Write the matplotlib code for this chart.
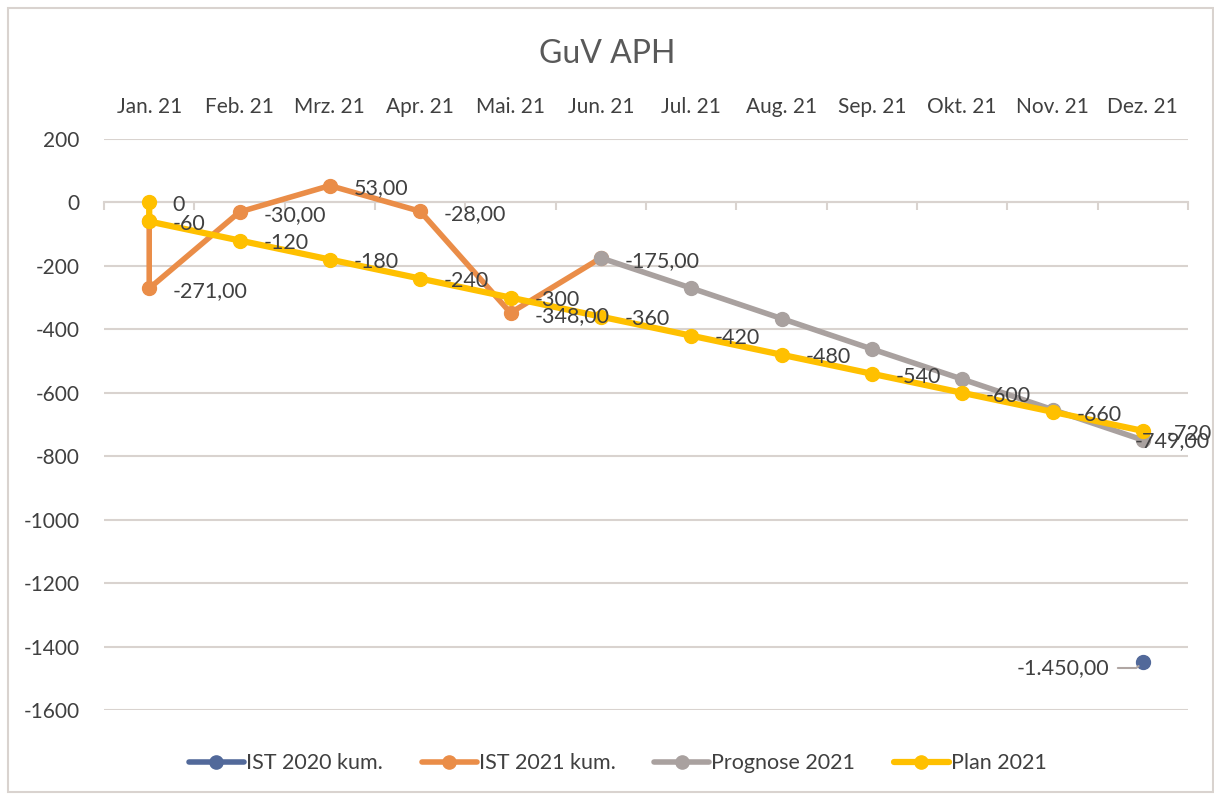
import matplotlib
matplotlib.use("Agg")
import matplotlib.pyplot as plt
from matplotlib.patches import Rectangle

plt.rcParams['font.family'] = ['Lato', 'DejaVu Sans']
plt.rcParams['axes.unicode_minus'] = False

# Kategorien (Monate)
monate = ['Jan. 21', 'Feb. 21', 'Mrz. 21', 'Apr. 21', 'Mai. 21', 'Jun. 21',
          'Jul. 21', 'Aug. 21', 'Sep. 21', 'Okt. 21', 'Nov. 21', 'Dez. 21']

# IST 2020 kum. - nur Dezember
ist2020_monate = ['Dez. 21']
ist2020_werte = [-1450]

# IST 2021 kum.
ist2021_monate = ['Jan. 21', 'Jan. 21', 'Feb. 21', 'Mrz. 21', 'Apr. 21', 'Mai. 21', 'Jun. 21']
ist2021_werte = [-60, -271, -30, 53, -28, -348, -175]

# Prognose 2021
prognose_monate = ['Jun. 21', 'Jul. 21', 'Aug. 21', 'Sep. 21', 'Okt. 21', 'Nov. 21', 'Dez. 21']
prognose_werte = [-175, -270, -366, -462, -557, -653, -749]

# Plan 2021
plan_monate = ['Jan. 21', 'Jan. 21', 'Feb. 21', 'Mrz. 21', 'Apr. 21', 'Mai. 21', 'Jun. 21',
               'Jul. 21', 'Aug. 21', 'Sep. 21', 'Okt. 21', 'Nov. 21', 'Dez. 21']
plan_werte = [0, -60, -120, -180, -240, -300, -360, -420, -480, -540, -600, -660, -720]

y_ticks = [200, 0, -200, -400, -600, -800, -1000, -1200, -1400, -1600]

# Farben
c_blau = '#52699A'
c_orange = '#EA8D48'
c_grau = '#A9A19F'
c_gelb = '#FFC000'
c_text = '#404040'
c_gitter = '#D9D3CF'


def pos(liste):
    return [monate.index(m) for m in liste]


def de_format(v):
    # deutsches Zahlenformat mit 2 Nachkommastellen
    s = f"{v:,.2f}"
    return s.replace(',', 'X').replace('.', ',').replace('X', '.')


fig = plt.figure(figsize=(12.14, 7.96), dpi=100)
ax = fig.add_axes([0.0857, 0.108, 0.8929, 0.7174])

# Rahmen um das Diagramm
fig.patches.append(Rectangle((8 / 1214, 4 / 796), 1 - 9 / 1214, 1 - 12 / 796,
                             transform=fig.transFigure, fill=False,
                             edgecolor=c_gitter, linewidth=1.5))

fs = 15
fs_lab = 15.5
ax.plot(pos(ist2020_monate), ist2020_werte, color=c_blau, lw=4, marker='o', ms=10,
        label='IST 2020 kum.', solid_capstyle='round', zorder=3)
ax.plot(pos(ist2021_monate), ist2021_werte, color=c_orange, lw=4, marker='o', ms=10,
        label='IST 2021 kum.', solid_capstyle='round', zorder=4)
ax.plot(pos(prognose_monate), prognose_werte, color=c_grau, lw=4, marker='o', ms=10,
        label='Prognose 2021', solid_capstyle='round', zorder=5)
ax.plot(pos(plan_monate), plan_werte, color=c_gelb, lw=4.5, marker='o', ms=10,
        label='Plan 2021', solid_capstyle='round', zorder=6)

# Datenbeschriftungen
for x, v in zip(pos(plan_monate), plan_werte):
    ax.annotate(f"{v}", (x, v), xytext=(17, -2), textcoords='offset points',
                ha='left', va='center', fontsize=fs_lab, color=c_text, zorder=7)
for x, v in zip(pos(ist2021_monate)[1:], ist2021_werte[1:]):
    ax.annotate(de_format(v), (x, v), xytext=(17, -2), textcoords='offset points',
                ha='left', va='center', fontsize=fs_lab, color=c_text, zorder=7)
# letzter Prognosewert: von Excel in den Diagrammbereich geschoben
ax.annotate(de_format(prognose_werte[-1]), (pos(prognose_monate)[-1], prognose_werte[-1]),
            xytext=(48, -1), textcoords='offset points',
            ha='right', va='center', fontsize=fs_lab, color=c_text, zorder=7)
ax.annotate(de_format(ist2020_werte[0]), (pos(ist2020_monate)[0], ist2020_werte[0]),
            xytext=(-24, -4), textcoords='offset points',
            ha='right', va='center', fontsize=fs_lab, color=c_text, zorder=7,
            arrowprops=dict(arrowstyle='-', color='#B0A6A3', lw=1.5,
                            connectionstyle='angle,angleA=0,angleB=40,rad=0',
                            shrinkA=4, shrinkB=4))

# Achsen
ax.set_xlim(-0.5, len(monate) - 0.5)
ax.set_ylim(-1600, 200)
ax.set_xticks(range(len(monate)))
ax.set_xticklabels(monate)
ax.set_xticks([i - 0.5 for i in range(len(monate) + 1)], minor=True)
ax.tick_params(axis='x', which='major', length=0, labeltop=True, labelbottom=False,
               top=False, bottom=False, labelsize=fs, labelcolor=c_text, pad=15.5)
ax.tick_params(axis='x', which='minor', length=6, width=1.5, color=c_gitter,
               bottom=True, top=False)
ax.set_yticks(y_ticks)
ax.tick_params(axis='y', length=0, labelsize=fs, labelcolor=c_text, pad=17.5)

ax.spines['bottom'].set_position(('data', 0))
ax.spines['bottom'].set_color(c_gitter)
ax.spines['bottom'].set_linewidth(1.5)
for s in ['top', 'left', 'right']:
    ax.spines[s].set_visible(False)
ax.grid(axis='y', color=c_gitter, lw=1.5)
ax.set_axisbelow(True)

fig.text(0.5, 1 - 54 / 796, 'GuV APH', ha='center', va='center', fontsize=23, color='#595959')

ax.legend(loc='center', bbox_to_anchor=(0.474, -0.093), ncol=4, frameon=False,
          fontsize=15.5, labelcolor=c_text, handlelength=2.55, handletextpad=0.1,
          columnspacing=1.8, markerscale=0.95)

fig.savefig('out.png', dpi=100)
